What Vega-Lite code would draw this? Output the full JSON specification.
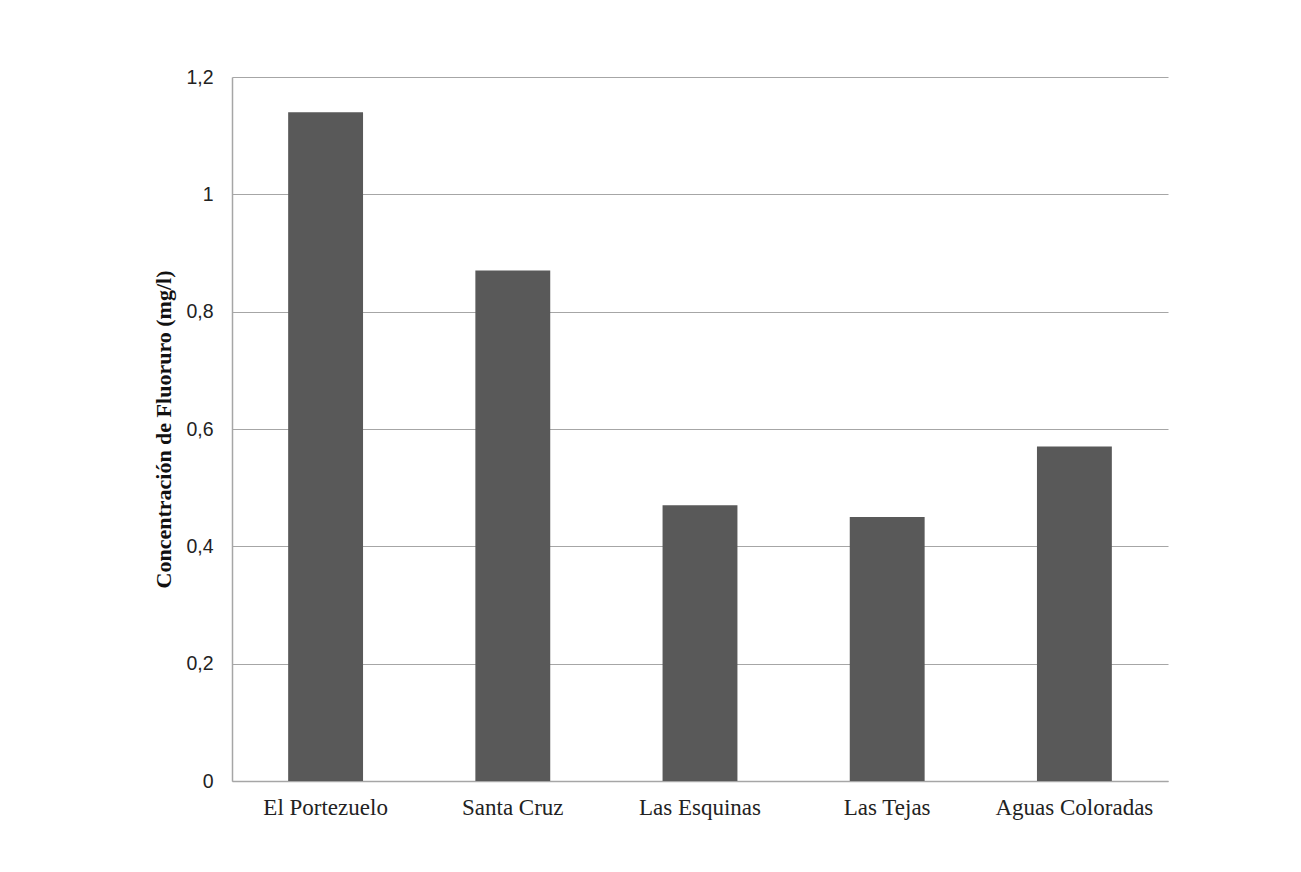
{
  "$schema": "https://vega.github.io/schema/vega-lite/v6.json",
  "width": 936,
  "height": 704,
  "autosize": {"type": "none"},
  "padding": {"left": 232, "top": 77, "right": 133, "bottom": 91},
  "background": "white",
  "data": {
    "values": [
      {"sitio": "El Portezuelo", "fluoruro": 1.14},
      {"sitio": "Santa Cruz", "fluoruro": 0.87},
      {"sitio": "Las Esquinas", "fluoruro": 0.47},
      {"sitio": "Las Tejas", "fluoruro": 0.45},
      {"sitio": "Aguas Coloradas", "fluoruro": 0.57}
    ]
  },
  "mark": {"type": "bar", "color": "#595959"},
  "encoding": {
    "x": {
      "field": "sitio",
      "type": "nominal",
      "sort": null,
      "scale": {"paddingInner": 0.6, "paddingOuter": 0.3},
      "axis": {
        "title": null,
        "labelAngle": 0,
        "labelFont": "Liberation Serif",
        "labelFontSize": 23,
        "labelColor": "#222222",
        "labelPadding": 15,
        "ticks": false,
        "domainColor": "#a6a6a6",
        "domainWidth": 1.5,
        "grid": false
      }
    },
    "y": {
      "field": "fluoruro",
      "type": "quantitative",
      "scale": {"domain": [0, 1.2], "nice": false},
      "axis": {
        "title": "Concentración de Fluoruro (mg/l)",
        "titleFont": "Liberation Serif",
        "titleFontSize": 22,
        "titleFontWeight": "bold",
        "titleColor": "#111111",
        "titleX": -57,
        "values": [0, 0.2, 0.4, 0.6, 0.8, 1, 1.2],
        "labelExpr": "replace(format(datum.value, '.1~f'), '.', ',')",
        "labelFont": "Liberation Sans",
        "labelFontSize": 19.5,
        "labelColor": "#222222",
        "labelPadding": 19,
        "ticks": false,
        "domainColor": "#a6a6a6",
        "domainWidth": 1.5,
        "gridColor": "#a6a6a6",
        "gridWidth": 1.2
      }
    }
  },
  "config": {"view": {"stroke": null}}
}
